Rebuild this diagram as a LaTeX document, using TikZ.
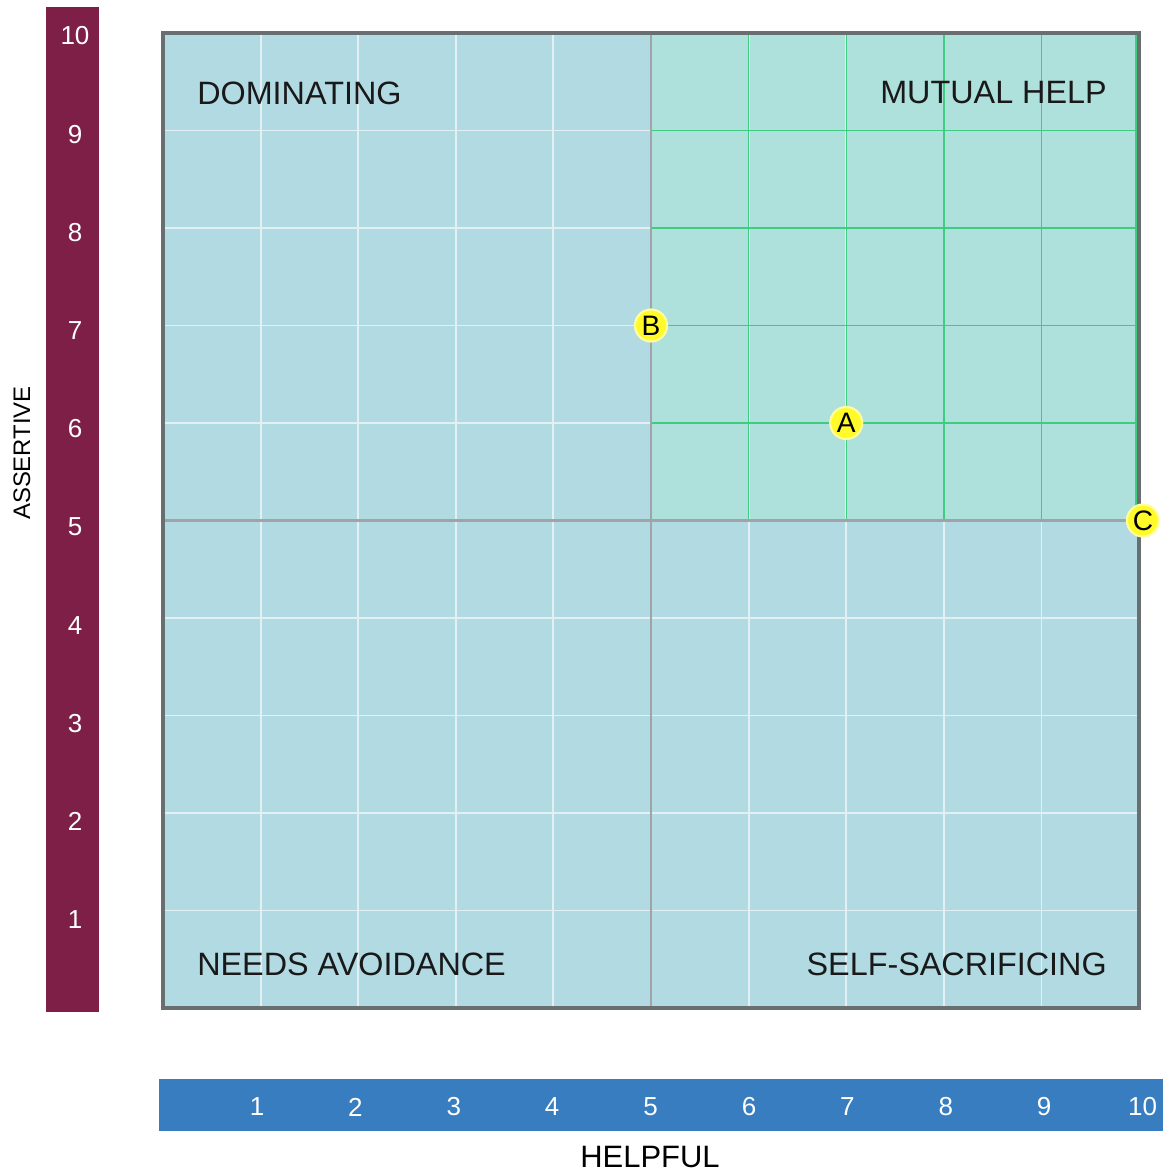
\documentclass[tikz,border=0pt]{standalone}
\usepackage{fontspec}
\setmainfont{Liberation Sans}
\usepackage{tikz}
\usetikzlibrary{positioning}
\tikzstyle{chart} = [x = .025cm, y = -.025cm]
\definecolor{assertColor}{RGB}{126,31,71}
\definecolor{helpColor}{RGB}{55,125,192}
\definecolor{fieldColor}{RGB}{177,218,227}
\definecolor{mutualColor}{RGB}{174,224,220}
\definecolor{mutualLineColor}{RGB}{62,205,128}
\definecolor{fieldLineColor}{RGB}{226,240,244}
\definecolor{axisLineColor}{RGB}{160,164,168}
\definecolor{frameColor}{RGB}{105,110,112}
\definecolor{pointColor}{RGB}{255,250,40}
\tikzstyle{scaleText} = [font=\fontsize{18.5}{20}\selectfont, text=white]
\tikzstyle{axisName} = [font=\fontsize{17}{19}\selectfont, text=black]
\tikzstyle{quadrantText} = [font=\fontsize{23}{24}\selectfont, text=black!90, inner sep=0pt]
\tikzstyle{fieldLine} = [color=fieldLineColor, line width=1.3pt]
\tikzstyle{mutualLine} = [color=mutualLineColor, line width=1pt]
\tikzstyle{axisLine} = [color=axisLineColor, line width=2pt]
\tikzstyle{chartFrame} = [color=frameColor, line width=2.2pt]
\tikzstyle{pointStyle} = [circle, fill=pointColor, draw=pointColor!45, line width=1.5pt, inner sep=0pt, minimum size=.8cm, font=\fontsize{20}{21}\selectfont]
\newcommand{\pointMark}[3]{\node [pointStyle] (#1) at (#2) {#3};}

\begin{document}
\begin{tikzpicture}[chart]
        \useasboundingbox (0,0) rectangle (1163,1174);
        % scale bars
        \fill [assertColor] (46,7) rectangle (99,1012);
        \fill [helpColor] (159,1079) rectangle (1163,1131);
        \foreach \n in {1,...,10} {
          \node [scaleText] (assert\n) at (75, {1018.2 - 98.22*\n}) {\n};
          \node [scaleText] (help\n) at ({158.6 + 98.4*\n}, 1107) {\n};
        }
        \node [axisName, rotate=90] (assertiveName) at (22,453) {ASSERTIVE};
        \node [axisName, font=\fontsize{22}{24}\selectfont] (helpfulName) at (650,1157) {HELPFUL};

        % the field, 10 by 10
        \begin{scope}[shift={(163,1008)}, xscale=97.6, yscale=-97.5]
          \fill [fieldColor] (0,0) rectangle (10,10);
          \fill [mutualColor] (5,5) rectangle (10,10);
          \foreach \k in {1,...,9} {
            \draw [fieldLine] (\k,0) -- (\k,10);
            \draw [fieldLine] (0,\k) -- (10,\k);
          }
          \foreach \k in {6,...,9} {
            \draw [mutualLine] (\k,5) -- (\k,10);
            \draw [mutualLine] (5,\k) -- (10,\k);
          }
          \draw [mutualLine] (9.97,5) -- (9.97,10);
          \draw [axisLine] (5,0) -- (5,10);
          \draw [axisLine] (0,5) -- (10,5);
          \draw [chartFrame] (0,0) rectangle (10,10);
          \pointMark{pointB}{5,7}{B}
          \pointMark{pointA}{7,6}{A}
          \pointMark{pointC}{10.04,5}{C}
        \end{scope}

        \node [quadrantText, anchor=west] (dominating) at (197,93) {DOMINATING};
        \node [quadrantText, anchor=east] (mutualHelp) at (1107,93) {MUTUAL HELP};
        \node [quadrantText, anchor=west] (needsAvoidance) at (197,964) {NEEDS AVOIDANCE};
        \node [quadrantText, anchor=east] (selfSacrificing) at (1107,964) {SELF-SACRIFICING};
      \end{tikzpicture}
\end{document}
